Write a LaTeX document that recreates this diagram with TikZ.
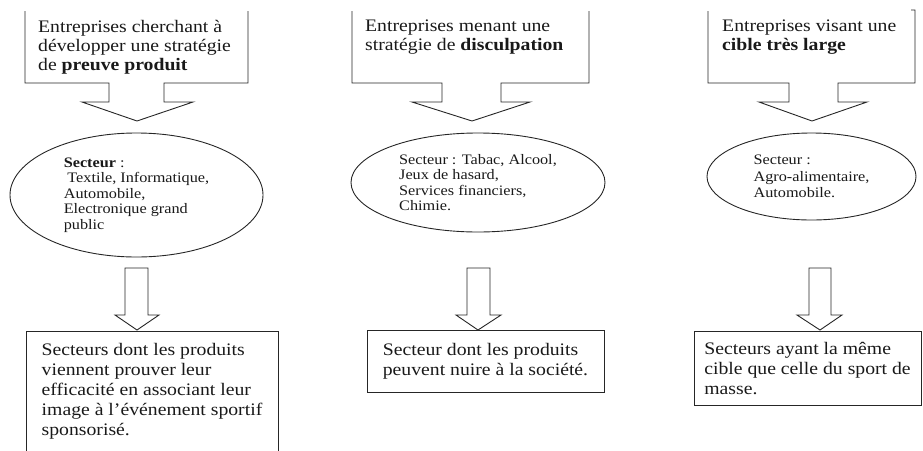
\documentclass[tikz,border=0pt]{standalone}
\usepackage{fontspec}
\setmainfont{Liberation Serif}[FakeStretch=1.12]
\usetikzlibrary{shapes.geometric}

\begin{document}
\begin{tikzpicture}[x=1pt,y=-1pt,
  trait/.style={draw=black!85, line width=0.9pt, line join=miter},
  entete/.style={anchor=north west, inner sep=0pt, align=left, text=black!90,
    font=\fontsize{17.6}{19}\selectfont},
  secteur/.style={ellipse, trait, inner sep=0pt, align=left, text=black!90,
    font=\fontsize{14.5}{15.5}\selectfont},
  cible/.style={rectangle, trait, inner sep=0pt, align=left, text=black!90,
    font=\fontsize{17.6}{20}\selectfont}]
\useasboundingbox (0,0) rectangle (923,450);

% les trois strategies (cadres ouverts en haut)
\coordinate (bec1) at (137,121);
\coordinate (bec2) at (472,121);
\coordinate (bec3) at (812,121);
\draw[trait] (25,11) -- (25,83) -- (109,83) -- (109,102) -- (82,102) -- (bec1)
  -- (193,102) -- (164,102) -- (164,83) -- (248,83) -- (248,11);
\draw[trait] (352,11) -- (352,83) -- (442,83) -- (442,102) -- (412,102) -- (bec2)
  -- (530,102) -- (501,102) -- (501,83) -- (589,83) -- (589,11);
\draw[trait] (708,11) -- (708,83) -- (789,83) -- (789,102) -- (759,102) -- (bec3)
  -- (867,102) -- (838,102) -- (838,83) -- (915,83) -- (915,10) -- (911,10);

\node[entete] (strat1) at (38,20) {Entreprises cherchant à\\développer une stratégie\\de \textbf{preuve produit}};
\node[entete] (strat2) at (365,20) {Entreprises menant une\\stratégie de \textbf{disculpation}};
\node[entete] (strat3) at (722,20) {Entreprises visant une\\\textbf{cible très large}};

% secteurs
\node[secteur, minimum width=253pt, minimum height=124pt] (sect1) at (136.5,195)
  {\textbf{Secteur} :\\\hspace{0.25em}Textile, Informatique,\\Automobile,\\Electronique grand\\public};
\node[secteur, minimum width=254pt, minimum height=99pt] (sect2) at (478,182.5)
  {Secteur : Tabac, Alcool,\\Jeux de hasard,\\Services financiers,\\Chimie.};
\node[secteur, minimum width=209pt, minimum height=87pt,
  font=\fontsize{14.5}{16.5}\selectfont] (sect3) at (811.5,176.5)
  {Secteur :\\Agro-alimentaire,\\Automobile.};

% secteurs vises
\node[cible, minimum width=252pt, minimum height=121pt] (cible1) at (152,391.5)
  {Secteurs dont les produits\\viennent prouver leur\\efficacité en associant leur\\image à l’événement sportif\\sponsorisé.};
\node[cible, minimum width=237pt, minimum height=62pt] (cible2) at (485.5,361)
  {Secteur dont les produits\\peuvent nuire à la société.};
\node[cible, minimum width=227pt, minimum height=74pt] (cible3) at (807.5,368)
  {Secteurs ayant la même\\cible que celle du sport de\\masse.};

% fleches creuses vers les cadres du bas
\coordinate (pointe1) at (137,330);
\coordinate (pointe2) at (478,330);
\coordinate (pointe3) at (820,330);
\draw[trait, fill=white] (125,268) -- (125,315) -- (115,315) -- (pointe1)
  -- (159,315) -- (148,315) -- (148,268) -- cycle;
\draw[trait, fill=white] (467,268) -- (467,315) -- (456,315) -- (pointe2)
  -- (501,315) -- (490,315) -- (490,268) -- cycle;
\draw[trait, fill=white] (809,268) -- (809,315) -- (797,315) -- (pointe3)
  -- (842,315) -- (831,315) -- (831,268) -- cycle;

\end{tikzpicture}
\end{document}
